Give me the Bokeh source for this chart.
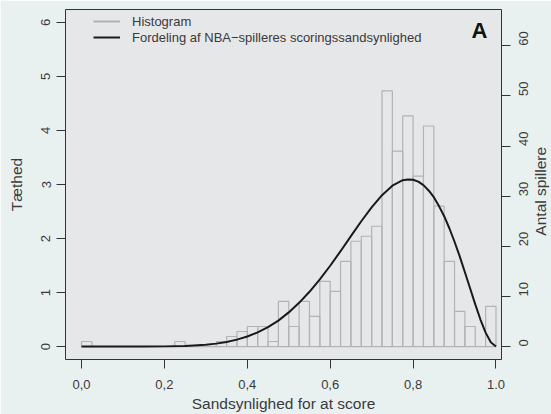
import math
import numpy as np
from bokeh.plotting import figure
from bokeh.layouts import row
from bokeh.models import (Range1d, LinearAxis, FixedTicker, Legend, LegendItem,
                          Label, ColumnDataSource)
from bokeh.core.properties import value
from bokeh.embed import file_html
from bokeh.resources import INLINE

# ---------------- data ----------------
bin_width = 0.025
# number of players per bin (40 bins from 0 to 1)
counts = [1, 0, 0, 0, 0, 0, 0, 0, 0, 1,
          0, 0, 0, 1, 2, 3, 4, 4, 1, 9,
          4, 9, 6, 13, 11, 17, 21, 22, 24, 51,
          39, 46, 34, 44, 28, 17, 7, 4, 0, 8]

# fitted density curve
curve_x = [0.0, 0.05, 0.1, 0.15, 0.2, 0.25, 0.3, 0.325, 0.35, 0.375, 0.4,
           0.425, 0.45, 0.475, 0.5, 0.525, 0.55, 0.575, 0.6, 0.625, 0.65,
           0.675, 0.7, 0.725, 0.75, 0.775, 0.7875, 0.8, 0.8125, 0.825,
           0.8375, 0.85, 0.8625, 0.875, 0.8875, 0.9, 0.9125, 0.925, 0.9375,
           0.95, 0.9625, 0.975, 0.9875, 1.0]
curve_y = [0.0, 0.0, 0.0, 0.0, 0.003, 0.01, 0.033, 0.054, 0.085, 0.128, 0.186,
           0.262, 0.361, 0.48, 0.632, 0.809, 1.014, 1.243, 1.496, 1.765, 2.044,
           2.32, 2.577, 2.803, 2.978, 3.079, 3.094, 3.088, 3.053, 2.988,
           2.89, 2.765, 2.60, 2.413, 2.19, 1.94, 1.67, 1.376, 1.078,
           0.78, 0.50, 0.258, 0.078, 0.0]

x_ticks = [0.0, 0.2, 0.4, 0.6, 0.8, 1.0]
x_tick_labels = ["0,0", "0,2", "0,4", "0,6", "0,8", "1.0"]
left_ticks = [0, 1, 2, 3, 4, 5, 6]
right_ticks = [0, 10, 20, 30, 40, 50, 60]

legend_labels = ["Histogram", "Fordeling af NBA\u2212spilleres scoringssandsynlighed"]
x_title = "Sandsynlighed for at score"
y_title = "Tæthed"
y2_title = "Antal spillere"
panel_letter = "A"

# ---------------- derived ----------------
n_players = sum(counts)
scale = n_players * bin_width          # density -> count
edges = np.linspace(0.0, 1.0, len(counts) + 1)
density = [c / scale for c in counts]
hist_src = ColumnDataSource(dict(left=edges[:-1], right=edges[1:], top=density,
                                 bottom=[0.0] * len(counts)))

FONT = "Liberation Sans"
TXT = "#3a3a3a"
TITLE_SIZE = "15.5px"

y_lo, y_hi = -0.24, 6.24
p = figure(width=551, height=414, output_backend="svg", toolbar_location=None,
           x_range=Range1d(-0.0386, 1.0133), y_range=Range1d(y_lo, y_hi),
           min_border_left=65, min_border_right=50, min_border_top=9,
           min_border_bottom=54)
p.extra_y_ranges = {"count": Range1d(y_lo * scale, y_hi * scale)}

p.background_fill_color = "#E6E7E8"
p.border_fill_color = "#E9F1F0"
p.outline_line_color = "#333333"
p.outline_line_width = 1
p.grid.visible = False

p.quad(left="left", right="right", top="top", bottom="bottom", source=hist_src,
       fill_color=None, line_color="#B3B3B3", line_width=1.2)
curve = p.line(curve_x, curve_y, line_color="#1a1a1a", line_width=2)
hist_key = p.line(x=[np.nan], y=[np.nan], line_color="#B3B3B3", line_width=2)

right_axis = LinearAxis(y_range_name="count")
p.add_layout(right_axis, "right")

p.xaxis.ticker = FixedTicker(ticks=x_ticks)
p.xaxis.major_label_overrides = {t: l for t, l in zip(x_ticks, x_tick_labels)}
p.yaxis[0].ticker = FixedTicker(ticks=left_ticks)
right_axis.ticker = FixedTicker(ticks=right_ticks)

p.xaxis.axis_label = x_title
p.yaxis[0].axis_label = y_title

for ax in [p.xaxis[0], p.yaxis[0], right_axis]:
    ax.axis_line_color = None
    ax.major_tick_out = 9
    ax.major_tick_in = 0
    ax.major_tick_line_color = "#333333"
    ax.minor_tick_line_color = None
    ax.major_label_text_font = FONT
    ax.major_label_text_font_size = "13px"
    ax.major_label_text_color = TXT
    ax.axis_label_text_font = FONT
    ax.axis_label_text_font_size = TITLE_SIZE
    ax.axis_label_text_font_style = "normal"
    ax.axis_label_text_color = TXT

p.xaxis.major_label_standoff = 11
p.xaxis.axis_label_standoff = 3
p.yaxis[0].major_label_orientation = "vertical"
p.yaxis[0].major_label_standoff = 6
p.yaxis[0].axis_label_standoff = 14
right_axis.major_label_orientation = math.pi / 2
right_axis.major_label_standoff = 13

legend = Legend(items=[LegendItem(label=legend_labels[0], renderers=[hist_key]),
                       LegendItem(label=legend_labels[1], renderers=[curve])],
                location=(28, 314), background_fill_alpha=0, border_line_color=None,
                padding=0, spacing=0, margin=0, glyph_width=27, glyph_height=16,
                label_height=16, label_standoff=12, label_text_font=FONT,
                label_text_font_size="13px", label_text_color=TXT)
p.add_layout(legend)

p.add_layout(Label(x=0.979, y=5.86, text=panel_letter, text_align="right",
                   text_baseline="middle", text_font=FONT, text_font_size="22px",
                   text_font_style="bold", text_color="#111111"))

# narrow transparent strip laid over the right margin for the right-hand title
STRIP_W = 22
p2 = figure(width=STRIP_W, height=414, output_backend="svg", toolbar_location=None,
            x_range=Range1d(-STRIP_W / 2, STRIP_W / 2), y_range=Range1d(-199, 215),
            min_border=0, margin=(0, 0, 0, -STRIP_W))
p2.axis.visible = False
p2.grid.visible = False
p2.outline_line_color = None
p2.background_fill_color = None
p2.border_fill_color = None
p2.text(x=[0], y=[0], text=[y2_title], angle=math.pi / 2, text_align="center",
        text_baseline="middle", text_font=value(FONT), text_font_size=TITLE_SIZE,
        text_color=TXT)

layout = row(p, p2, spacing=0)
open("out.html", "w").write(file_html(layout, INLINE))
